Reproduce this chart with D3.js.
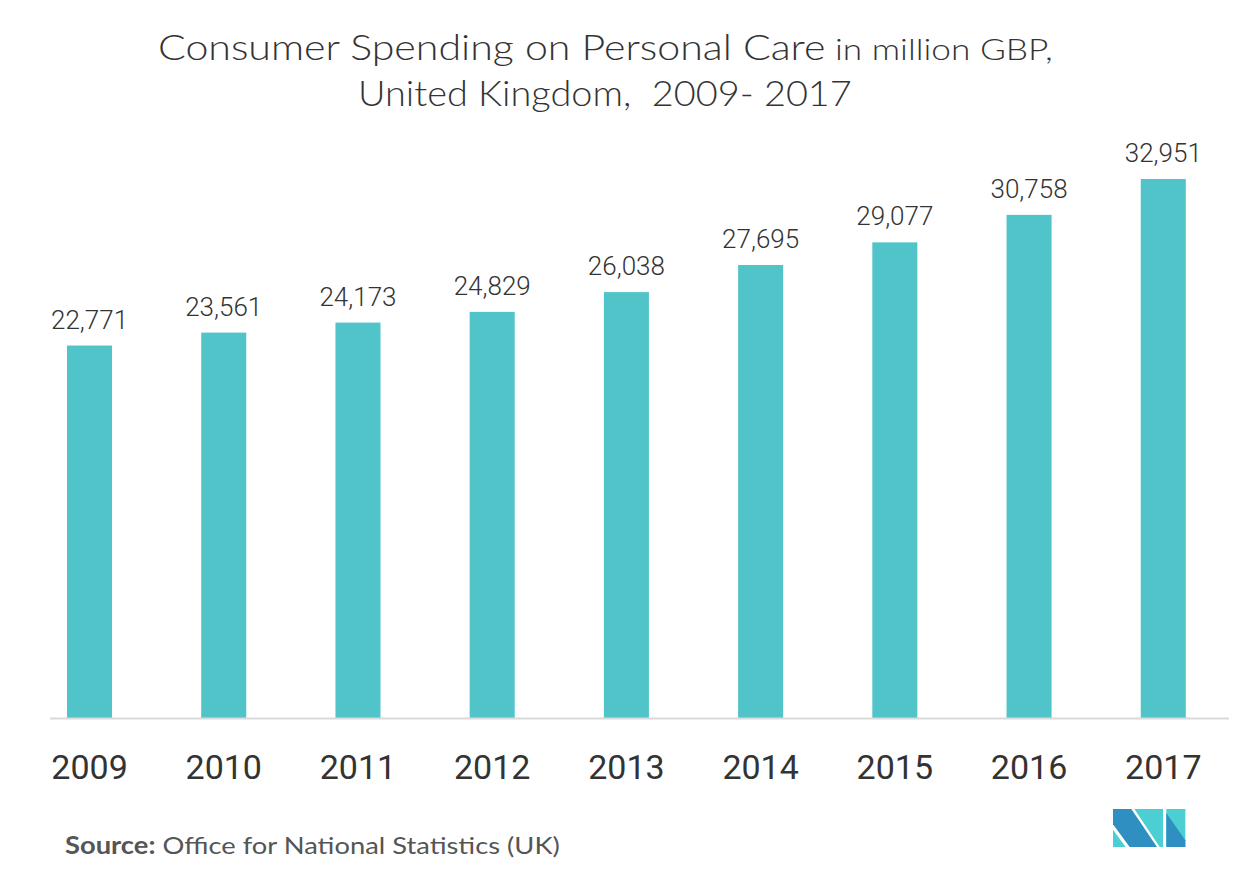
<!DOCTYPE html>
<html><head><meta charset="utf-8">
<script src="https://cdn.jsdelivr.net/npm/d3@7"></script>
<style>
html,body{margin:0;padding:0;background:#fff;}
svg{display:block;}
</style></head>
<body>
<svg id="chart" width="1252" height="880"></svg>
<script>
const years = ["2009","2010","2011","2012","2013","2014","2015","2016","2017"];
const spending = [22771,23561,24173,24829,26038,27695,29077,30758,32951];
const titleLine1Main = "Consumer Spending on Personal Care";
const titleLine1Small = " in million GBP,";
const titleLine2 = "United Kingdom,\u00a0 2009- 2017";
const sourceLabel = "Source:";
const sourceText = " Office for National Statistics (UK)";

const svg = d3.select("#chart");
const baseY = 718, topY = 145.5;

const x = d3.scaleBand().domain(years).range([67, 1185.8]).paddingInner(1 - 45/134.1).paddingOuter(0);
const y = d3.scaleLinear().domain([0, 35000]).range([baseY, topY]);

// fit a start-anchored text horizontally into [left, right]
function fitText(sel, left, right, baseline) {
  const w = sel.node().getComputedTextLength();
  const k = (right - left) / w;
  sel.attr("x", 0).attr("y", 0).attr("transform", `translate(${left},${baseline}) scale(${k},1)`);
}

// Title
const FF = "Lato, 'Open Sans', sans-serif";
const t1 = svg.append("text").attr("font-family", FF).attr("font-weight", 300).attr("fill","#333");
t1.append("tspan").attr("font-size", 35).text(titleLine1Main);
t1.append("tspan").attr("font-size", 30).text(titleLine1Small);
fitText(t1, 158, 1053, 60);
const t2 = svg.append("text").attr("font-family", FF).attr("font-weight", 300).attr("font-size", 35).attr("fill","#333").text(titleLine2);
fitText(t2, 358, 852, 106);

// Bars
svg.append("g").selectAll("rect").data(years).join("rect")
  .attr("x", d => x(d)).attr("width", x.bandwidth())
  .attr("y", (d,i) => y(spending[i])).attr("height", (d,i) => baseY - y(spending[i]))
  .attr("fill", "#51c4ca");

// Value labels
const fmt = d3.format(",");
svg.append("g").selectAll("text").data(years).join("text")
  .attr("x", d => x(d) + x.bandwidth()/2)
  .attr("y", (d,i) => y(spending[i]) - 17)
  .attr("text-anchor","middle")
  .attr("font-family","Roboto, sans-serif").attr("font-weight", 300).attr("font-size", 26).attr("fill","#333")
  .text((d,i) => fmt(spending[i]));

// Axis
const axis = svg.append("g").attr("transform", `translate(0,${baseY})`)
  .call(d3.axisBottom(x).tickSize(0).tickPadding(0));
axis.select(".domain").remove();
axis.append("line").attr("x1", 50).attr("x2", 1229).attr("y1", 0.5).attr("y2", 0.5)
  .attr("stroke", "#d9d9d9").attr("stroke-width", 2);
axis.selectAll(".tick text").attr("dy", null).attr("y", 61)
  .attr("font-family","Roboto, sans-serif").attr("font-size", 34).attr("fill","#333");

// Source
const s = svg.append("text").attr("font-family", FF).attr("font-size", 24).attr("fill","#555");
s.append("tspan").attr("font-weight","bold").text(sourceLabel);
s.append("tspan").text(sourceText);
fitText(s, 65, 560, 854);

// Logo
const lg = svg.append("g").attr("transform","translate(1113,809)");
const sc = p => p.map(([a,b]) => [(a-190)/3, (b-358)/3].join(",")).join(" ");
lg.append("polygon").attr("points", sc([[190,358],[245,358],[322,472],[240,472],[190,404]])).attr("fill","#2e8fc0");
lg.append("polygon").attr("points", sc([[190,420],[228,472],[190,472]])).attr("fill","#4ccfd2");
lg.append("polygon").attr("points", sc([[254,358],[340,358],[340,472],[330,472]])).attr("fill","#4ccfd2");
lg.append("polygon").attr("points", sc([[350,358],[407,358],[407,472],[350,472]])).attr("fill","#4ccfd2");
lg.append("polygon").attr("points", sc([[350,370],[407,452],[407,472],[350,472]])).attr("fill","#2e8fc0");
</script>
</body></html>
